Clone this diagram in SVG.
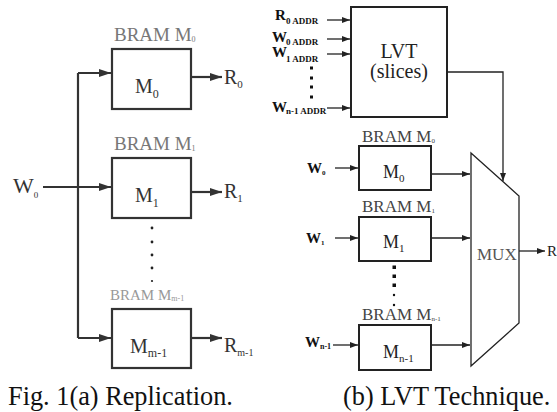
<svg xmlns="http://www.w3.org/2000/svg" width="557" height="412" viewBox="0 0 557 412" font-family="'Liberation Serif', 'DejaVu Serif', serif">
<defs>
<style>
text{font-family:'Liberation Serif','DejaVu Serif',serif}
.box{fill:#fff;stroke:#333;stroke-width:2.2}
.rbox{fill:#fff;stroke:#222;stroke-width:2}
.wl{fill:none;stroke:#333;stroke-width:2.2}
.nl{fill:none;stroke:#222;stroke-width:1.3}
.lab{font-size:19px;fill:#777}
.big{font-size:20px;fill:#333}
.b{font-weight:bold;fill:#111}
.cap{font-size:26.3px;fill:#111}
</style>
<marker id="ab" markerUnits="userSpaceOnUse" markerWidth="13" markerHeight="9" refX="12" refY="4" orient="auto"><path d="M0,0 L12,4 L0,8 z" fill="#333"/></marker>
<marker id="as" markerUnits="userSpaceOnUse" markerWidth="9" markerHeight="7" refX="8" refY="3" orient="auto"><path d="M0,0 L8,3 L0,6 z" fill="#222"/></marker>
</defs>

<!-- Left: replication -->
<g id="w0-left"><text class="big" x="13" y="193" style="font-size:22px">W<tspan dy="5" style="font-size:9px">0</tspan></text></g>
<g id="bram-m0">
<text class="lab" x="114" y="41">BRAM M<tspan dy="1" style="font-size:8px">0</tspan></text>
<rect class="box" x="112" y="49" width="79" height="60"/>
<text class="big" x="135" y="93">M<tspan dy="5" style="font-size:12px">0</tspan></text>
</g>
<g id="bram-m1">
<text class="lab" x="114" y="150">BRAM M<tspan dy="1" style="font-size:8px">1</tspan></text>
<rect class="box" x="112" y="158" width="79" height="60"/>
<text class="big" x="135" y="202">M<tspan dy="5" style="font-size:12px">1</tspan></text>
</g>
<g id="bram-mm1">
<text class="lab" x="110" y="300" style="font-size:15px;fill:#999">BRAM M<tspan dy="1" style="font-size:8px">m-1</tspan></text>
<rect class="box" x="112" y="309" width="79" height="59"/>
<text class="big" x="130" y="353">M<tspan dy="4" style="font-size:12px">m-1</tspan></text>
</g>
<g id="r-left">
<text class="big" x="224" y="84">R<tspan dy="4" style="font-size:11px">0</tspan></text>
<text class="big" x="224" y="198">R<tspan dy="4" style="font-size:11px">1</tspan></text>
<text class="big" x="224" y="352">R<tspan dy="4" style="font-size:10px">m-1</tspan></text>
</g>
<g id="dots-left" fill="#222">
<circle cx="152" cy="228" r="1.4"/><circle cx="152" cy="242" r="1.4"/><circle cx="152" cy="255" r="1.4"/><circle cx="152" cy="268" r="1.4"/><circle cx="152" cy="281" r="1.1"/>
</g>

<!-- Right: LVT -->
<g id="lvt">
<rect class="rbox" x="351" y="7" width="96" height="110"/>
<text x="399" y="58" text-anchor="middle" style="font-size:20px;fill:#222">LVT</text>
<text x="399" y="78" text-anchor="middle" style="font-size:20px;fill:#222">(slices)</text>
</g>
<g id="addr-labels">
<text class="b" x="275" y="20" style="font-size:15px">R<tspan x="286" y="24" style="font-size:9px">0 ADDR</tspan></text>
<text class="b" x="272" y="42" style="font-size:15px">W<tspan x="286" y="45" style="font-size:9px">0 ADDR</tspan></text>
<text class="b" x="272" y="57" style="font-size:15px">W<tspan x="286" y="62" style="font-size:9px">1 ADDR</tspan></text>
<text class="b" x="272" y="112" style="font-size:15px">W<tspan x="286" y="114" style="font-size:9px">n-1 ADDR</tspan></text>
</g>
<g id="dots-addr" fill="#111">
<rect x="310" y="66.5" width="3" height="3"/><rect x="310" y="76.5" width="3" height="3"/><rect x="310" y="85.5" width="3" height="3"/><rect x="310" y="95.5" width="3" height="3"/>
</g>
<g id="rbram-m0">
<text x="362" y="142" style="font-size:17px;fill:#444">BRAM M<tspan dy="1" style="font-size:7px">0</tspan></text>
<rect class="rbox" x="359" y="146" width="72" height="44"/>
<text x="383" y="178" style="font-size:18px;fill:#222">M<tspan dy="4" style="font-size:11px">0</tspan></text>
</g>
<g id="rbram-m1">
<text x="362" y="212" style="font-size:17px;fill:#444">BRAM M<tspan dy="1" style="font-size:7px">1</tspan></text>
<rect class="rbox" x="359" y="217" width="72" height="44"/>
<text x="383" y="248" style="font-size:18px;fill:#222">M<tspan dy="4" style="font-size:11px">1</tspan></text>
</g>
<g id="rbram-mn1">
<text x="362" y="320" style="font-size:17px;fill:#444">BRAM M<tspan dy="1" style="font-size:7px">n-1</tspan></text>
<rect class="rbox" x="359" y="325" width="72" height="45"/>
<text x="383" y="358" style="font-size:18px;fill:#222">M<tspan dy="4" style="font-size:11px">n-1</tspan></text>
</g>
<g id="w-right">
<text class="b" x="307" y="173" style="font-size:15px">W<tspan dy="2" style="font-size:7px">0</tspan></text>
<text class="b" x="306" y="243" style="font-size:15px">W<tspan dy="2" style="font-size:7px">1</tspan></text>
<text class="b" x="305" y="347" style="font-size:15px">W<tspan dy="2" style="font-size:8px">n-1</tspan></text>
</g>
<g id="dots-right" fill="#111">
<rect x="392.5" y="265.5" width="3.5" height="3.5"/><rect x="392.5" y="274.5" width="3.5" height="3.5"/><rect x="392.5" y="283.5" width="3.5" height="3.5"/>
<circle cx="394" cy="295" r="1.2"/><circle cx="394" cy="305" r="1.2"/>
</g>
<g id="mux">
<polygon points="471,153 519,196 519,323 471,366" fill="#fff" stroke="#222" stroke-width="1.3"/>
<text x="477" y="260" style="font-size:17px;fill:#555">MUX</text>
</g>
<g id="r-right"><text x="547" y="256" style="font-size:15px;fill:#222">R</text></g>

<!-- Connectors -->
<g id="connectors">
<path class="wl" d="M78,73 V338"/>
<path class="wl" d="M78,73 H111" marker-end="url(#ab)"/>
<path class="wl" d="M43,187 H111" marker-end="url(#ab)"/>
<path class="wl" d="M78,338 H111" marker-end="url(#ab)"/>
<path class="wl" d="M191,77 H222" marker-end="url(#ab)"/>
<path class="wl" d="M191,192 H222" marker-end="url(#ab)"/>
<path class="wl" d="M191,338 H222" marker-end="url(#ab)"/>
<path class="nl" d="M327,20 H350" marker-end="url(#as)"/>
<path class="nl" d="M327,39 H350" marker-end="url(#as)"/>
<path class="nl" d="M327,54 H350" marker-end="url(#as)"/>
<path class="nl" d="M327,108 H350" marker-end="url(#as)"/>
<path class="nl" d="M447,72 H503 V181" marker-end="url(#as)"/>
<path class="nl" d="M335,168 H358" marker-end="url(#as)"/>
<path class="nl" d="M335,238 H358" marker-end="url(#as)"/>
<path class="nl" d="M333,345 H358" marker-end="url(#as)"/>
<path class="nl" d="M431,174 H470" marker-end="url(#as)"/>
<path class="nl" d="M431,238 H470" marker-end="url(#as)"/>
<path class="nl" d="M431,345 H470" marker-end="url(#as)"/>
<path class="nl" d="M519,251 H545" marker-end="url(#as)"/>
</g>

<!-- Captions -->
<text class="cap" x="8" y="405">Fig. 1(a) Replication.</text>
<text class="cap" x="343" y="405">(b) LVT Technique.</text>
</svg>
